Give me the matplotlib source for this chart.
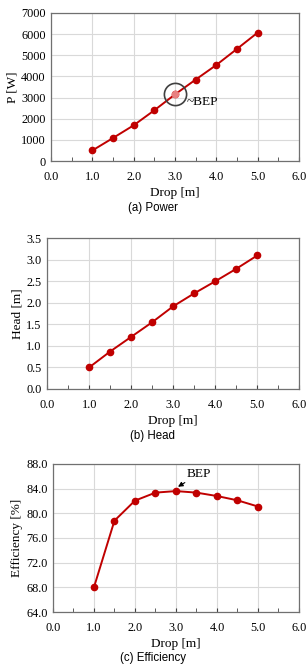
import numpy as np
import matplotlib
matplotlib.use("Agg")
from matplotlib import pyplot as plt

drop = [1.0, 1.5, 2.0, 2.5, 3.0, 3.5, 4.0, 4.5, 5.0]
power = [500, 1090, 1690, 2400, 3150, 3850, 4540, 5300, 6070]
head = [0.50, 0.87, 1.21, 1.55, 1.92, 2.22, 2.50, 2.79, 3.10]
eff = [68.0, 78.8, 82.05, 83.35, 83.6, 83.35, 82.8, 82.1, 81.1]
bep_idx = 4

serif = ['Liberation Serif', 'DejaVu Serif']
sans = ['Liberation Sans', 'DejaVu Sans']
red = '#c00000'

fig = plt.figure(figsize=(3.06, 6.64), dpi=100)
ax1 = fig.add_axes([0.167, 0.7575, 0.810, 0.223])
ax2 = fig.add_axes([0.154, 0.4142, 0.824, 0.227])
ax3 = fig.add_axes([0.173, 0.0783, 0.804, 0.223])


def style(ax, ylim, ystep, yfmt, ylabel):
    ax.set_xlim(0, 6)
    ax.set_ylim(*ylim)
    ax.set_xticks(np.arange(0, 6.01, 1.0))
    ax.set_xticks(np.arange(0.5, 6, 1.0), minor=True)
    ax.set_yticks(np.arange(ylim[0], ylim[1] + ystep / 2, ystep))
    ax.set_xticklabels([f'{v:.1f}' for v in np.arange(0, 6.01, 1.0)], family=serif, fontsize=8.8)
    ax.set_yticklabels([yfmt.format(v) for v in np.arange(ylim[0], ylim[1] + ystep / 2, ystep)],
                       family=serif, fontsize=8.8)
    ax.grid(True, color='#d9d9d9', lw=0.8)
    ax.set_axisbelow(True)
    ax.tick_params(axis='x', which='both', direction='in', length=3, color='#404040', pad=7)
    ax.tick_params(axis='y', length=0, pad=4)
    for s in ax.spines.values():
        s.set_color('#707070')
        s.set_linewidth(0.9)
    ax.set_xlabel('Drop [m]', family=serif, fontsize=9.5, labelpad=3)
    ax.set_ylabel(ylabel, family=serif, fontsize=9.5, labelpad=2)


# (a) Power
ax1.plot(drop, power, color=red, lw=1.4, marker='o', ms=4.5, mfc=red, mec=red)
ax1.plot(drop[bep_idx], power[bep_idx], 'o', ms=4.5, mfc='#e88080', mec='#e88080')
ax1.plot(drop[bep_idx], power[bep_idx], 'o', ms=16, mfc='none', mec='#404040', mew=1.2)
ax1.text(3.27, 2790, '~BEP', family=serif, fontsize=9.5, va='center', ha='left')
style(ax1, (0, 7000), 1000, '{:.0f}', 'P [W]')

# (b) Head
ax2.plot(drop, head, color=red, lw=1.4, marker='o', ms=4.5, mfc=red, mec=red)
style(ax2, (0, 3.5), 0.5, '{:.1f}', 'Head [m]')

# (c) Efficiency
ax3.plot(drop, eff, color=red, lw=1.4, marker='o', ms=4.5, mfc=red, mec=red)
ax3.annotate('BEP', xy=(3.05, 84.3), xytext=(3.27, 86.4), family=serif, fontsize=9.5,
             va='center', ha='left',
             arrowprops=dict(arrowstyle='-|>', color='black', lw=0.8, mutation_scale=7,
                             shrinkA=6, shrinkB=0))
style(ax3, (64, 88), 4, '{:.1f}', 'Efficiency [%]')

fig.text(0.5, 0.686, '(a) Power', family=sans, fontsize=8.3, ha='center', va='center')
fig.text(0.5, 0.344, '(b) Head', family=sans, fontsize=8.3, ha='center', va='center')
fig.text(0.5, 0.009, '(c) Efficiency', family=sans, fontsize=8.3, ha='center', va='center')

fig.savefig('out.png', dpi=100)
